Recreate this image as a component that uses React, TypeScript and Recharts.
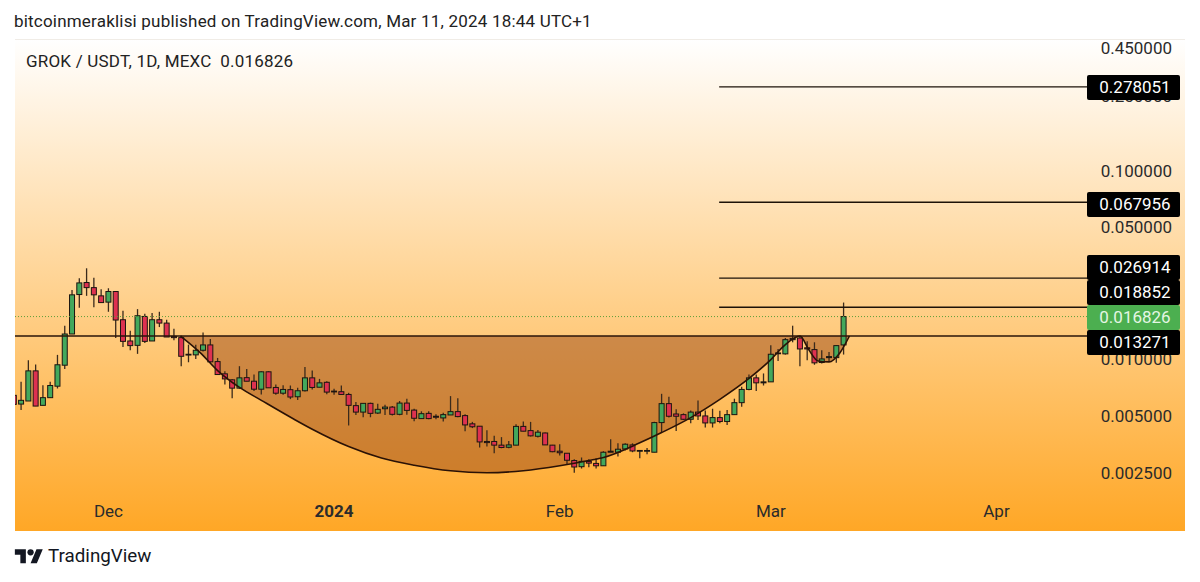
import React from "react";
import { ComposedChart, XAxis, YAxis, Bar, Area, Line, ReferenceLine } from "recharts";

const firstDay = -13; // days relative to Dec 1, 2023
const bodyTops = [.00643,.00605,.00867,.00867,.00625,.00725,.00934,.0136,.02194,.02538,.0255,.02396,.02167,.02285,.02285,.01619,.01249,.017,.01685,.01619,.01619,.01554,.01321,.01301,.01062,.01115,.0119,.0119,.00971,.00836,.00777,.00796,.00798,.00764,.00857,.00857,.00708,.00691,.00689,.0068,.00796,.00796,.00749,.00754,.00677,.00672,.0065,.00567,.00583,.00583,.00542,.00557,.00557,.00585,.00585,.00537,.00514,.00516,.00498,.00508,.00527,.00527,.00502,.00454,.00441,.00366,.00366,.0035,.00351,.0044,.0044,.00418,.0041,.00406,.0035,.00325,.00317,.0029,.00287,.00287,.0028,.00321,.00325,.00333,.00354,.00351,.00328,.00328,.00461,.00581,.00581,.00512,.00508,.00524,.00524,.005,.0049,.0049,.00508,.00588,.00691,.00796,.00796,.00758,.01062,.01079,.01269,.01289,.01295,.01149,.01124,.01003,.01032,.0118,.016826];
const bodyBottoms = [.00576,.00578,.006,.00564,.00569,.00625,.00719,.00929,.0136,.02202,.02396,.02194,.01996,.02007,.01613,.01243,.0118,.01184,.01243,.01249,.01554,.01311,.01301,.01036,.01054,.01054,.01115,.00968,.00829,.00786,.00702,.00702,.00764,.00693,.00693,.00705,.0066,.0066,.0063,.00632,.0068,.00708,.0071,.00669,.00672,.0065,.00569,.00524,.00524,.00516,.00518,.00546,.0051,.0051,.00535,.00486,.00484,.00484,.00492,.00488,.00506,.00496,.00448,.00438,.00364,.00361,.0035,.0034,.00341,.0035,.00415,.00392,.0039,.00351,.00323,.00319,.00291,.00268,.00269,.00281,.00272,.00272,.00321,.00321,.00334,.00326,.00325,.00325,.00321,.00461,.00498,.00498,.0048,.0048,.005,.00459,.00459,.00467,.00467,.00508,.00588,.00691,.00749,.00749,.00758,.01071,.01067,.01269,.01133,.01133,.00956,.0096,.01019,.01019,.0119];
const highs = [.00666,.00758,.00987,.00937,.00728,.00758,.01054,.01505,.02331,.02687,.03034,.02706,.0235,.02378,.02285,.01806,.01416,.01843,.01741,.01755,.01784,.01619,.0145,.01333,.01194,.01194,.01386,.01279,.01015,.00863,.00786,.00918,.00888,.00829,.00863,.00863,.00734,.00728,.00725,.00705,.0091,.0087,.00786,.00764,.00697,.00725,.00663,.00593,.00583,.00588,.00581,.00574,.00564,.006,.00617,.00546,.00529,.00529,.0051,.0052,.00637,.0062,.0051,.00465,.00441,.0042,.00392,.00386,.00368,.00452,.00467,.00465,.00421,.00408,.00351,.00354,.00317,.00295,.00301,.00295,.00298,.00325,.00376,.00358,.00358,.00358,.00328,.00338,.00465,.00655,.00632,.00542,.00516,.00535,.00603,.00535,.00546,.00533,.00537,.00617,.00714,.00829,.00829,.0084,.01184,.01133,.01295,.01505,.01321,.01243,.01229,.01115,.0109,.0118,.01997];
const lows = [.00556,.00537,.006,.00564,.00569,.00625,.00699,.00888,.0136,.01873,.02167,.01888,.01996,.01784,.01295,.01161,.01115,.01067,.01219,.01249,.0148,.01311,.01259,.00918,.00963,.01003,.01098,.00957,.00829,.00734,.0062,.00697,.00764,.00677,.0065,.00705,.00648,.00648,.00614,.00607,.00674,.00691,.0071,.00652,.00648,.00645,.00445,.00506,.00492,.00492,.00512,.00506,.00502,.00504,.00508,.00468,.00484,.0048,.0048,.00467,.00506,.00492,.00415,.00431,.0034,.00344,.00317,.00337,.00337,.0035,.00415,.00389,.00384,.00351,.00321,.00308,.00278,.0025,.00263,.00267,.00263,.00272,.00321,.00305,.00328,.00321,.00298,.00313,.00321,.00408,.0049,.00416,.00476,.00457,.00476,.00434,.00434,.00457,.00447,.00508,.0056,.00685,.00677,.00725,.00758,.00979,.01058,.01229,.00918,.00987,.00934,.0095,.00979,.00956,.01058];
const greenDays = [-12, -11, -9, -8, -7, -6, -5, -4, 0, 4, 6, 12, 13, 18, 21, 24, 26, 27, 29, 35, 37, 38, 40, 43, 46, 47, 55, 56, 59, 65, 68, 69, 70, 71, 73, 74, 75, 76, 80, 83, 85, 86, 87, 88, 90, 91, 92, 93, 94, 98, 99, 100, 101];

// Cup-and-handle drawing, as (day, price) pairs
const cupDays = [9.9,12.6,15,18,21,25.5,28,33,37.5,42,47,52,57,62,66,68,73,76,80,84,88,91,93,95,96.2,97.5,99,100.5,101.8];
const cupPrices = [.013271,.01084,.0087,.00708,.00605,.0048,.00425,.00344,.00299,.00274,.00256,.0025,.00256,.00272,.0029,.00301,.0036,.00408,.0049,.00612,.0079,.00995,.01194,.013271,.01124,.00978,.00967,.01083,.013271];

const neckline = 0.013271;
const lastPrice = 0.016826;
const targetLevels = [0.278051, 0.067956, 0.026914, 0.018852];

const yTicks = [0.45, 0.25, 0.1, 0.05, 0.01, 0.005, 0.0025];
const xTickDays = [0, 31, 62, 91, 122];
const xTickLabels = ["Dec", "2024", "Feb", "Mar", "Apr"];

const priceTags = [
  { text: "0.278051", top: 75, bg: "#000", fg: "#fff" },
  { text: "0.067956", top: 192, bg: "#000", fg: "#fff" },
  { text: "0.026914", top: 255, bg: "#000", fg: "#fff" },
  { text: "0.018852", top: 280, bg: "#000", fg: "#fff" },
  { text: "0.016826", top: 305, bg: "#4caf50", fg: "#e4f6e4" },
  { text: "0.013271", top: 330, bg: "#000", fg: "#fff" },
];

const candles = highs.map((high, i) => {
  const day = firstDay + i;
  const up = greenDays.includes(day);
  return {
    day,
    high,
    low: lows[i],
    open: up ? bodyBottoms[i] : bodyTops[i],
    close: up ? bodyTops[i] : bodyBottoms[i],
    range: [lows[i], high],
  };
});

const cupRows = cupDays.map((day, i) => ({ day, price: cupPrices[i], band: [cupPrices[i], neckline] }));

const FONT = "Roboto, sans-serif";
const X_MIN = -12.84;
const X_MAX = 147.9;
const LABEL_DAY = 134.6;
const TARGET_START_DAY = 83.9;
const BODY_WIDTH = 5;

function Candle(props: any) {
  const { x, y, width, height, payload } = props;
  const { high, low, open, close } = payload;
  const cx = x + width / 2;
  const span = Math.log(high / low) || 1;
  const at = (p: number) => y + (height * Math.log(high / p)) / span;
  const top = at(Math.max(open, close));
  const bottom = at(Math.min(open, close));
  const fill = close >= open ? "#43a85c" : "#de3150";
  return (
    <g>
      <line x1={cx} x2={cx} y1={y} y2={y + height} stroke="#3a2a1c" strokeWidth={1.3} />
      <rect x={cx - BODY_WIDTH / 2} y={top} width={BODY_WIDTH} height={Math.max(bottom - top, 0.8)} fill={fill} stroke="#1c1410" strokeWidth={1} />
    </g>
  );
}

function XTick(props: any) {
  const { x, y, payload } = props;
  const label = xTickLabels[xTickDays.indexOf(payload.value)];
  return (
    <text x={x} y={y} textAnchor="middle" fontFamily={FONT} fontSize={17} fill="#2b2b2b" fontWeight={label === "2024" ? 700 : 400}>
      {label}
    </text>
  );
}

export default function App() {
  return (
    <div style={{ position: "absolute", left: 0, top: 0, width: 1200, height: 582, background: "#fff", overflow: "hidden", fontFamily: FONT }}>
      <div style={{ position: "absolute", left: 14, top: 11, fontSize: 17, color: "#222", letterSpacing: 0.2, whiteSpace: "nowrap" }}>
        bitcoinmeraklisi published on TradingView.com, Mar 11, 2024 18:44 UTC+1
      </div>
      <div style={{ position: "absolute", left: 15, top: 39, width: 1170, height: 491.5, background: "linear-gradient(#ffffff, #ffa726)", boxShadow: "inset 0 1px 0 #f0ece6" }} />
      <div style={{ position: "absolute", left: 0, top: 0 }}>
        <ComposedChart width={1200} height={582} data={candles} margin={{ left: 15, right: 15, top: 39, bottom: 51.5 }}>
          <XAxis dataKey="day" type="number" domain={[X_MIN, X_MAX]} ticks={xTickDays} allowDataOverflow mirror axisLine={false} tickLine={false} tick={<XTick />} tickSize={0} tickMargin={14} interval={0} />
          <YAxis type="number" scale="log" domain={[0.001234, 0.4991]} ticks={yTicks} allowDataOverflow orientation="right" mirror axisLine={false} tickLine={false} tickSize={0} tickMargin={13} interval={0} tickFormatter={(v: number) => v.toFixed(6)} tick={{ fontFamily: FONT, fontSize: 17, fill: "#2b2b2b" }} />
          <Area data={cupRows} dataKey="band" type="monotone" fill="#9c4a15" fillOpacity={0.5} stroke="none" isAnimationActive={false} dot={false} activeDot={false} />
          <ReferenceLine segment={[{ x: X_MIN, y: lastPrice }, { x: LABEL_DAY, y: lastPrice }]} stroke="#5f9e3a" strokeWidth={1} strokeDasharray="1 2" />
          <ReferenceLine segment={[{ x: X_MIN, y: neckline }, { x: LABEL_DAY, y: neckline }]} stroke="#2a140a" strokeWidth={1.4} />
          {targetLevels.map((level) => (
            <ReferenceLine key={level} segment={[{ x: TARGET_START_DAY, y: level }, { x: LABEL_DAY, y: level }]} stroke="#1d1208" strokeWidth={1.4} />
          ))}
          <Line data={cupRows} dataKey="price" type="monotone" stroke="#2a1206" strokeWidth={1.6} dot={false} activeDot={false} isAnimationActive={false} />
          <Bar dataKey="range" barSize={5} shape={<Candle />} isAnimationActive={false} />
        </ComposedChart>
      </div>
      {priceTags.map((tag) => (
        <div key={tag.text} style={{ position: "absolute", left: 1087, top: tag.top, width: 90, paddingLeft: 3, height: 25, lineHeight: "25px", background: tag.bg, color: tag.fg, fontSize: 17, textAlign: "center", borderRadius: 2 }}>
          {tag.text}
        </div>
      ))}
      <div style={{ position: "absolute", left: 26, top: 51, fontSize: 17, letterSpacing: 0.2, color: "#222", whiteSpace: "pre" }}>GROK / USDT, 1D, MEXC  0.016826</div>
      <svg style={{ position: "absolute", left: 14, top: 546 }} width={30} height={22} viewBox="0 0 36 28">
        <path d="M14 22H7V11H0V4h14v18zM28 22h-8l7.5-18h8L28 22z" fill="#131722" />
        <circle cx={20} cy={8} r={4} fill="#131722" />
      </svg>
      <div style={{ position: "absolute", left: 48, top: 545, fontSize: 18.8, color: "#131722", whiteSpace: "nowrap" }}>TradingView</div>
    </div>
  );
}
